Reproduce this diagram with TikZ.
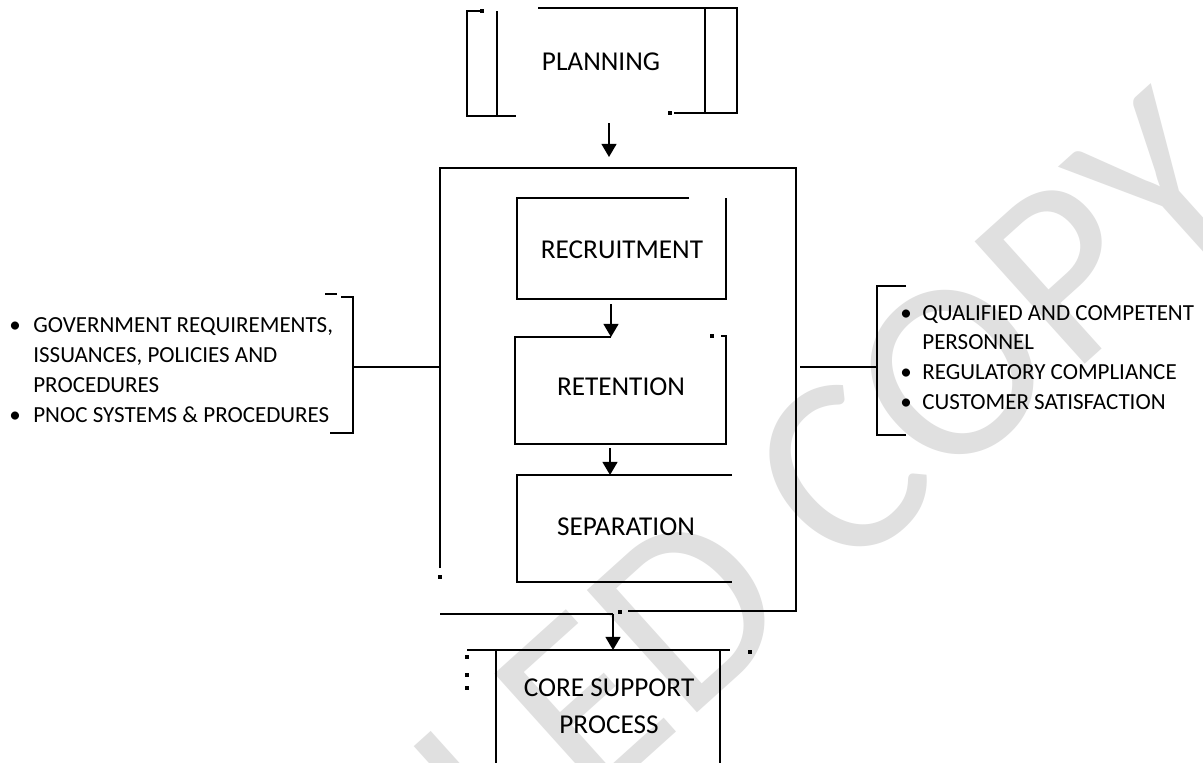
\documentclass[tikz,border=0pt]{standalone}
\usepackage{fontspec}
\setmainfont{Carlito}
\usetikzlibrary{arrows.meta,calc,fit}
\newcommand\lstbullet[1]{\makebox[#1][l]{\textbullet}}
\begin{document}
\begin{tikzpicture}[x=0.02cm,y=-0.02cm,
  outline/.style={line width=1.1pt},
  arr/.style={line width=1.1pt,-{Triangle[width=8.5pt,length=7.5pt]}},
  area/.style={inner sep=0pt,outer sep=0pt},
  lbl/.style={font=\fontsize{15.5}{21}\selectfont,align=center,inner sep=0pt},
  lst/.style={font=\fontsize{13.1}{17}\selectfont,align=left,inner sep=0pt,anchor=west},
  speck/.style={fill=black,inner sep=0pt,minimum size=2.5pt},
  stamp/.style={text=black!12,font=\fontsize{146}{146}\selectfont,inner sep=0pt}]
\useasboundingbox (0,0) rectangle (1203,762);
\fill[white] (0,0) rectangle (1203,762);

% watermark stamp
\begin{scope}
  \clip (0,0) rectangle (1203,762);
  \node[stamp,rotate=42,anchor=base east] (wm) at (1262,205) {CONTROLLED COPY};
\end{scope}

% invisible areas of the boxes
\node[area,fit={(467,8)(737,116)}] (plan) {};
\node[area,fit={(440,168)(796,614)}] (main) {};
\node[area,fit={(517,198)(726,299)}] (rec) {};
\node[area,fit={(515,337)(726,444)}] (ret) {};
\node[area,fit={(517,475)(732,582)}] (sep) {};
\node[area,fit={(467,650)(730,762)}] (core) {};

% planning frame
\draw[outline] (480,11) -- (467,11) -- (467,116) -- (516,116);
\draw[outline] (497,11) -- (497,116);
\draw[outline] (538,8) -- (737,8) -- (737,113) -- (674,113);
\draw[outline] (705,8) -- (705,113);

% main process frame
\draw[outline] (440,568) -- (440,168) -- (796,168) -- (796,611) -- (628,611);
\draw[outline] (440,614) -- (613,614);

% recruitment / retention / separation
\draw[outline] (689,198) -- (517,198) -- (517,299) -- (726,299) -- (726,198);
\draw[outline] (611,337) -- (515,337) -- (515,444) -- (726,444) -- (726,336) -- (721,336);
\draw[outline] (732,475) -- (517,475) -- (517,582) -- (732,582);

% core support frame
\draw[outline] (467,650) -- (730,650);
\draw[outline] (496,650) -- (496,770);
\draw[outline] (720,650) -- (720,770);

% brackets
\draw[outline] (341,297) -- (353,297) -- (353,433) -- (330,433);
\draw[outline] (325,294) -- (337,294);
\draw[outline] (906,286) -- (877,286) -- (877,435) -- (906,435);
\coordinate (lb) at (353,367);
\coordinate (rb) at (877,367);

% specks
\node[speck] at (482,11) {};
\node[speck] at (670,113) {};
\node[speck] at (440,577) {};
\node[speck] at (712,336) {};
\node[speck] at (467,657) {};
\node[speck] at (467,675) {};
\node[speck] at (467,688) {};
\node[speck] at (750,652) {};
\node[speck] at (620,612) {};

% connectors
\draw[arr] ($(plan.south)+(7,7)$) -- ($(main.north)+(-9,-11)$);
\draw[arr] ($(rec.south)+(-10.5,5)$) -- ($(ret.north)+(-9.5,0)$);
\draw[arr] ($(ret.south)+(-10.5,4)$) -- ($(sep.north)+(-14.5,0)$);
\draw[arr] ($(main.south)+(-5,0)$) -- ($(core.north)+(14.5,0)$);
\draw[outline] (lb) -- (lb -| main.west);
\draw[outline] ($(rb -| main.east)+(4,0)$) -- (rb);

% labels
\node[lbl] (plan-t) at (601,62) {PLANNING};
\node[lbl] (rec-t) at (622,250) {RECRUITMENT};
\node[lbl] (ret-t) at (621,387) {RETENTION};
\node[lbl] (sep-t) at (626,527) {SEPARATION};
\node[lbl] (core-t) at (609,706) {CORE SUPPORT\\PROCESS};

\node[lst] (inputs) at (9,370) {%
  \lstbullet{0.48cm}GOVERNMENT REQUIREMENTS,\\
  \hspace*{0.48cm}ISSUANCES, POLICIES AND\\
  \hspace*{0.48cm}PROCEDURES\\
  \lstbullet{0.48cm}PNOC SYSTEMS \& PROCEDURES};
\node[lst] (outputs) at (900,357.5) {%
  \lstbullet{0.44cm}QUALIFIED AND COMPETENT\\
  \hspace*{0.44cm}PERSONNEL\\
  \lstbullet{0.44cm}REGULATORY COMPLIANCE\\
  \lstbullet{0.44cm}CUSTOMER SATISFACTION};
\end{tikzpicture}
\end{document}
